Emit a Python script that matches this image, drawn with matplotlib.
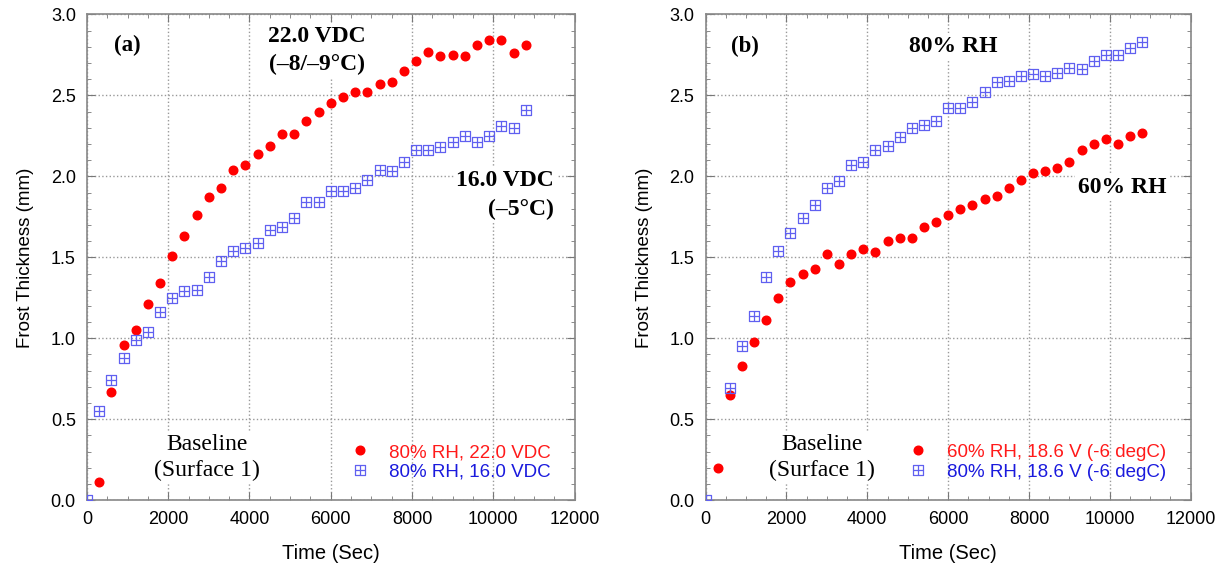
import matplotlib
matplotlib.use('Agg')
import matplotlib.pyplot as plt
from matplotlib.path import Path
from matplotlib.ticker import MultipleLocator

# panel (a): 80% RH at two voltages
t_a_red = [300, 600, 900, 1200, 1500, 1800, 2100, 2400, 2700, 3000, 3300, 3600,
           3900, 4200, 4500, 4800, 5100, 5400, 5700, 6000, 6300, 6600, 6900,
           7200, 7500, 7800, 8100, 8400, 8700, 9000, 9300, 9600, 9900, 10200,
           10500, 10800]
h_a_red = [0.11, 0.67, 0.96, 1.05, 1.21, 1.34, 1.51, 1.63, 1.76, 1.87, 1.93,
           2.04, 2.07, 2.14, 2.19, 2.26, 2.26, 2.34, 2.40, 2.45, 2.49, 2.52,
           2.52, 2.57, 2.58, 2.65, 2.71, 2.77, 2.74, 2.75, 2.74, 2.81, 2.84,
           2.84, 2.76, 2.81]
t_a_blue = [0, 300, 600, 900, 1200, 1500, 1800, 2100, 2400, 2700, 3000, 3300,
            3600, 3900, 4200, 4500, 4800, 5100, 5400, 5700, 6000, 6300, 6600,
            6900, 7200, 7500, 7800, 8100, 8400, 8700, 9000, 9300, 9600, 9900,
            10200, 10500, 10800]
h_a_blue = [0.0, 0.55, 0.74, 0.88, 0.99, 1.04, 1.16, 1.25, 1.29, 1.30, 1.38,
            1.48, 1.54, 1.56, 1.59, 1.67, 1.69, 1.74, 1.84, 1.84, 1.91, 1.91,
            1.93, 1.98, 2.04, 2.03, 2.09, 2.16, 2.16, 2.18, 2.21, 2.25, 2.21,
            2.25, 2.31, 2.30, 2.41]

# panel (b): 18.6 V at two humidities
t_b_red = [300, 600, 900, 1200, 1500, 1800, 2100, 2400, 2700, 3000, 3300, 3600,
           3900, 4200, 4500, 4800, 5100, 5400, 5700, 6000, 6300, 6600, 6900,
           7200, 7500, 7800, 8100, 8400, 8700, 9000, 9300, 9600, 9900, 10200,
           10500, 10800]
h_b_red = [0.20, 0.65, 0.83, 0.98, 1.11, 1.25, 1.35, 1.40, 1.43, 1.52, 1.46,
           1.52, 1.55, 1.53, 1.60, 1.62, 1.62, 1.69, 1.72, 1.76, 1.80, 1.82,
           1.86, 1.88, 1.93, 1.98, 2.02, 2.03, 2.05, 2.09, 2.16, 2.20, 2.23,
           2.20, 2.25, 2.27]
t_b_blue = [0, 600, 900, 1200, 1500, 1800, 2100, 2400, 2700, 3000, 3300, 3600,
            3900, 4200, 4500, 4800, 5100, 5400, 5700, 6000, 6300, 6600, 6900,
            7200, 7500, 7800, 8100, 8400, 8700, 9000, 9300, 9600, 9900, 10200,
            10500, 10800]
h_b_blue = [0.0, 0.69, 0.95, 1.14, 1.38, 1.54, 1.65, 1.74, 1.82, 1.93, 1.97,
            2.07, 2.09, 2.16, 2.19, 2.24, 2.30, 2.32, 2.34, 2.42, 2.42, 2.46,
            2.52, 2.58, 2.59, 2.62, 2.63, 2.62, 2.64, 2.67, 2.66, 2.71, 2.75,
            2.75, 2.79, 2.83]

RED = '#ff0000'
BLUE = '#6060f0'

# square with a cross inside
box_cross = Path(
    [(-1, -1), (1, -1), (1, 1), (-1, 1), (-1, -1),
     (0, -1), (0, 1), (-1, 0), (1, 0)],
    [Path.MOVETO, Path.LINETO, Path.LINETO, Path.LINETO, Path.CLOSEPOLY,
     Path.MOVETO, Path.LINETO, Path.MOVETO, Path.LINETO])

sans = 'Liberation Sans'
serif = 'Liberation Serif'
box = dict(facecolor='white', edgecolor='none', pad=2)


def style_axes(ax):
    ax.set_xlim(0, 12000)
    ax.set_ylim(0, 3.0)
    ax.xaxis.set_major_locator(MultipleLocator(2000))
    ax.xaxis.set_minor_locator(MultipleLocator(500))
    ax.yaxis.set_major_locator(MultipleLocator(0.5))
    ax.yaxis.set_minor_locator(MultipleLocator(0.1))
    ax.yaxis.set_major_formatter(plt.FormatStrFormatter('%.1f'))
    ax.grid(True, which='major', linestyle=':', color='#999999', linewidth=1)
    ax.tick_params(which='both', direction='in', top=True, right=True,
                   colors='#777777', labelcolor='black')
    ax.tick_params(which='major', length=6, labelsize=13, pad=8)
    ax.tick_params(which='minor', length=3)
    for lab in ax.get_xticklabels() + ax.get_yticklabels():
        lab.set_fontfamily(sans)
    for s in ax.spines.values():
        s.set_color('#888888')
        s.set_linewidth(1.2)
    ax.set_xlabel('Time (Sec)', fontsize=14.5, family=sans, labelpad=11)
    ax.set_ylabel('Frost Thickness (mm)', fontsize=13.5, family=sans,
                  labelpad=12)


def draw_series(ax, tr, hr, tb, hb, lab_r, lab_b):
    ax.plot(tr, hr, linestyle='none', marker='o', markersize=6.2,
            color=RED, label=lab_r, zorder=3)
    ax.plot(tb, hb, linestyle='none', marker=box_cross, markersize=6.8,
            markerfacecolor='none', markeredgecolor=BLUE, markeredgewidth=0.9,
            label=lab_b, zorder=3)
    leg = ax.legend(loc='lower right', bbox_to_anchor=(0.985, 0.005),
                    frameon=False, prop={'family': sans, 'size': 13.5},
                    handletextpad=0.95, labelspacing=0.15, handlelength=1.2)
    leg.get_texts()[0].set_color('#ff1a1a')
    leg.get_texts()[1].set_color('#1a1add')


fig = plt.figure(figsize=(12.25, 5.75), dpi=100)
ax1 = fig.add_axes([0.071, 0.13, 0.398, 0.845])
ax2 = fig.add_axes([0.576, 0.13, 0.396, 0.845])

for ax in (ax1, ax2):
    style_axes(ax)

draw_series(ax1, t_a_red, h_a_red, t_a_blue, h_a_blue,
            '80% RH, 22.0 VDC', '80% RH, 16.0 VDC')
draw_series(ax2, t_b_red, h_b_red, t_b_blue, h_b_blue,
            '60% RH, 18.6 V (-6 degC)', '80% RH, 18.6 V (-6 degC)')

# annotations, panel (a)
ax1.text(1000, 2.81, '(a)', family=serif, weight='bold', fontsize=16.5,
         ha='center', va='center', bbox=box, zorder=2)
ax1.text(5650, 2.775, '22.0 VDC\n(\u20138/\u20139\u00b0C)', family=serif,
         weight='bold', fontsize=17, ha='center', va='center',
         linespacing=1.45, bbox=box, zorder=2)
ax1.text(11500, 1.885, '16.0 VDC\n(\u20135\u00b0C)', family=serif,
         weight='bold', fontsize=17, ha='right', va='center',
         linespacing=1.45, multialignment='right', bbox=box, zorder=2)
ax1.text(2950, 0.265, 'Baseline\n(Surface 1)', family=serif, fontsize=17,
         ha='center', va='center', linespacing=1.3, bbox=box, zorder=2)

# annotations, panel (b)
ax2.text(970, 2.80, '(b)', family=serif, weight='bold', fontsize=16.5,
         ha='center', va='center', bbox=box, zorder=2)
ax2.text(6130, 2.80, '80% RH', family=serif, weight='bold', fontsize=17,
         ha='center', va='center', bbox=box, zorder=2)
ax2.text(11400, 1.93, '60% RH', family=serif, weight='bold', fontsize=17,
         ha='right', va='center', bbox=box, zorder=2)
ax2.text(2870, 0.265, 'Baseline\n(Surface 1)', family=serif, fontsize=17,
         ha='center', va='center', linespacing=1.3, bbox=box, zorder=2)

fig.savefig('out.png', dpi=100)
